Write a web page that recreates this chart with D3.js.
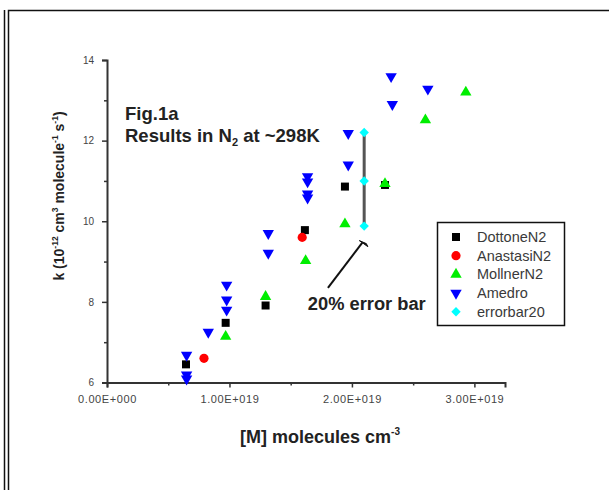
<!DOCTYPE html>
<html><head><meta charset="utf-8">
<script src="https://cdn.jsdelivr.net/npm/d3@7"></script>
<style>body{margin:0;background:#fff}svg{display:block}</style>
</head><body>
<svg id="c" width="609" height="490"></svg>
<script>
// ---- data (x in units of 1E19 molecules cm^-3, k in 1e-12) ----
const dottoneX = [0.645, 0.969, 1.295, 1.616, 1.943, 2.27];
const dottoneY = [6.45, 7.48, 7.91, 9.78, 10.86, 10.9];
const anastasiX = [0.792, 1.594];
const anastasiY = [6.60, 9.60];
const mollnerX = [0.969, 1.295, 1.622, 1.943, 2.27, 2.60, 2.93];
const mollnerY = [7.14, 8.13, 9.02, 9.93, 10.93, 12.51, 13.2];
const amedroX = [0.65, 0.65, 0.65, 0.827, 0.977, 0.977, 0.977, 1.317, 1.317, 1.638, 1.638, 1.638, 1.638, 1.97, 1.97, 2.33, 2.32, 2.62];
const amedroY = [6.68, 6.19, 6.09, 7.25, 8.42, 8.05, 7.80, 9.70, 9.21, 11.11, 10.98, 10.68, 10.58, 11.40, 12.18, 12.9, 13.59, 13.28];
const errX = [2.10, 2.10, 2.10];
const errY = [12.2, 11.0, 9.88];
const seriesNames = ["DottoneN2", "AnastasiN2", "MollnerN2", "Amedro", "errorbar20"];
const xTicks = [0, 1, 2, 3];
const xTickLabels = ["0.00E+000", "1.00E+019", "2.00E+019", "3.00E+019"];
const xMinor = [0.5, 1.5, 2.5];
const yTicks = [6, 8, 10, 12, 14];
const yMinor = [7, 9, 11, 13];

const svg = d3.select("#c");
const font = "'Liberation Sans', Arial, sans-serif";
const x = d3.scaleLinear([0, 3.25], [107, 505]);
const y = d3.scaleLinear([6, 14], [382.5, 60]);

// page frame
svg.append("path").attr("d", "M4.5,10 V490 M8.5,490 V10.5 H609")
  .attr("fill", "none").attr("stroke", "#111").attr("stroke-width", 1.5);

// axes
const axisColor = "#333";
const gx = svg.append("g").attr("transform", `translate(0,${y(6)})`);
gx.call(d3.axisBottom(x).tickValues(xTicks).tickSize(5).tickFormat((d, i) => xTickLabels[i]));
const gxm = svg.append("g").attr("transform", `translate(0,${y(6)})`);
gxm.call(d3.axisBottom(x).tickValues(xMinor).tickSize(3).tickFormat(""));
const gy = svg.append("g").attr("transform", `translate(${x(0)},0)`);
gy.call(d3.axisLeft(y).tickValues(yTicks).tickSize(5).tickFormat(d3.format("d")));
const gym = svg.append("g").attr("transform", `translate(${x(0)},0)`);
gym.call(d3.axisLeft(y).tickValues(yMinor).tickSize(3).tickFormat(""));
[gx, gxm, gy, gym].forEach(g => {
  g.select(".domain").attr("stroke", axisColor).attr("stroke-width", 2);
  g.selectAll(".tick line").attr("stroke", axisColor).attr("stroke-width", 1.5);
  g.selectAll("text").attr("fill", "#444").attr("font-family", font);
});
gx.selectAll("text").attr("font-size", 11).attr("letter-spacing", 0.6).attr("dy", "1.1em");
gy.selectAll("text").attr("font-size", 10).attr("dx", "-0.5em");
gxm.select(".domain").remove(); gym.select(".domain").remove();

// error bar
svg.append("line").attr("x1", x(errX[0])).attr("x2", x(errX[0]))
  .attr("y1", y(d3.max(errY))).attr("y2", y(d3.min(errY)))
  .attr("stroke", "#555").attr("stroke-width", 3);

// symbols
const sym = {
  sq: d3.symbol(d3.symbolSquare, 64)(),
  ci: d3.symbol(d3.symbolCircle, 66)(),
  tr: d3.symbol(d3.symbolTriangle, 56)(),
  di: d3.symbol(d3.symbolSquare, 44)()
};
const series = [
  {xs: dottoneX, ys: dottoneY, path: sym.sq, rot: 0, color: "#000000"},
  {xs: anastasiX, ys: anastasiY, path: sym.ci, rot: 0, color: "#ff0000"},
  {xs: amedroX, ys: amedroY, path: sym.tr, rot: 180, color: "#0000ff"},
  {xs: mollnerX, ys: mollnerY, path: sym.tr, rot: 0, color: "#00ee00"},
  {xs: errX, ys: errY, path: sym.di, rot: 45, color: "#00ffff"}
];
series.forEach(s => {
  svg.append("g").selectAll("path").data(s.xs.map((v, i) => [v, s.ys[i]])).join("path")
    .attr("d", s.path).attr("fill", s.color)
    .attr("transform", d => `translate(${x(d[0])},${y(d[1])}) rotate(${s.rot})`);
});

// legend
const legendOrder = [
  {path: sym.sq, rot: 0, color: "#000000"},
  {path: sym.ci, rot: 0, color: "#ff0000"},
  {path: sym.tr, rot: 0, color: "#00ee00"},
  {path: sym.tr, rot: 180, color: "#0000ff"},
  {path: sym.di, rot: 45, color: "#00ffff"}
];
const lg = svg.append("g");
lg.append("rect").attr("x", 437.5).attr("y", 222.5).attr("width", 127).attr("height", 103)
  .attr("fill", "#fff").attr("stroke", "#111").attr("stroke-width", 1.5);
legendOrder.forEach((s, i) => {
  const yy = 237 + i * 18.7;
  lg.append("path").attr("d", s.path).attr("fill", s.color)
    .attr("transform", `translate(456,${yy}) rotate(${s.rot})`);
  lg.append("text").attr("x", 477).attr("y", yy + 5).text(seriesNames[i])
    .attr("font-family", font).attr("font-size", 14.5).attr("fill", "#3a3a3a");
});

// titles
const t1 = svg.append("text").attr("font-family", font).attr("font-weight", "bold")
  .attr("font-size", 18.5).attr("fill", "#222").attr("x", 125).attr("y", 120).text("Fig.1a");
const t2 = svg.append("text").attr("font-family", font).attr("font-weight", "bold")
  .attr("font-size", 18.5).attr("fill", "#222").attr("x", 125).attr("y", 142);
t2.append("tspan").text("Results in N");
t2.append("tspan").attr("font-size", 11).attr("dy", 4).text("2");
t2.append("tspan").attr("dy", -4).text(" at ~298K");

// annotation
const annStart = [1.804, 8.345], annEnd = [2.085, 9.47], annTip = [2.13, 9.37];
svg.append("line").attr("x1", x(annStart[0])).attr("y1", y(annStart[1]))
  .attr("x2", x(annEnd[0])).attr("y2", y(annEnd[1])).attr("stroke", "#111").attr("stroke-width", 2);
svg.append("path")
  .attr("d", `M${x(annEnd[0]) - 3},${y(annEnd[1]) - 2} L${x(annTip[0])},${y(annTip[1])} L${x(annEnd[0]) + 4},${y(annEnd[1]) + 1}Z`)
  .attr("fill", "#111").attr("stroke", "#111").attr("stroke-width", 1);
svg.append("text").attr("font-family", font).attr("font-weight", "bold").attr("font-size", 18.3)
  .attr("fill", "#222").attr("x", x(1.64)).attr("y", y(7.8)).text("20% error bar");

// axis titles
const xl = svg.append("text").attr("font-family", font).attr("font-weight", "bold").attr("font-size", 18)
  .attr("fill", "#222").attr("x", 320).attr("y", 443).attr("text-anchor", "middle");
xl.append("tspan").text("[M] molecules cm");
xl.append("tspan").attr("font-size", 10).attr("dy", -8).text("-3");

const yl = svg.append("text").attr("font-family", font).attr("font-weight", "bold").attr("font-size", 14)
  .attr("fill", "#222").attr("text-anchor", "middle").attr("transform", "translate(64,196) rotate(-90)");
yl.append("tspan").text("k (10");
yl.append("tspan").attr("font-size", 8.5).attr("dy", -6).text("-12");
yl.append("tspan").attr("dy", 6).text(" cm");
yl.append("tspan").attr("font-size", 8.5).attr("dy", -6).text("3");
yl.append("tspan").attr("dy", 6).text(" molecule");
yl.append("tspan").attr("font-size", 8.5).attr("dy", -6).text("-1");
yl.append("tspan").attr("dy", 6).text(" s");
yl.append("tspan").attr("font-size", 8.5).attr("dy", -6).text("-1");
yl.append("tspan").attr("dy", 6).text(")");
</script>
</body></html>
